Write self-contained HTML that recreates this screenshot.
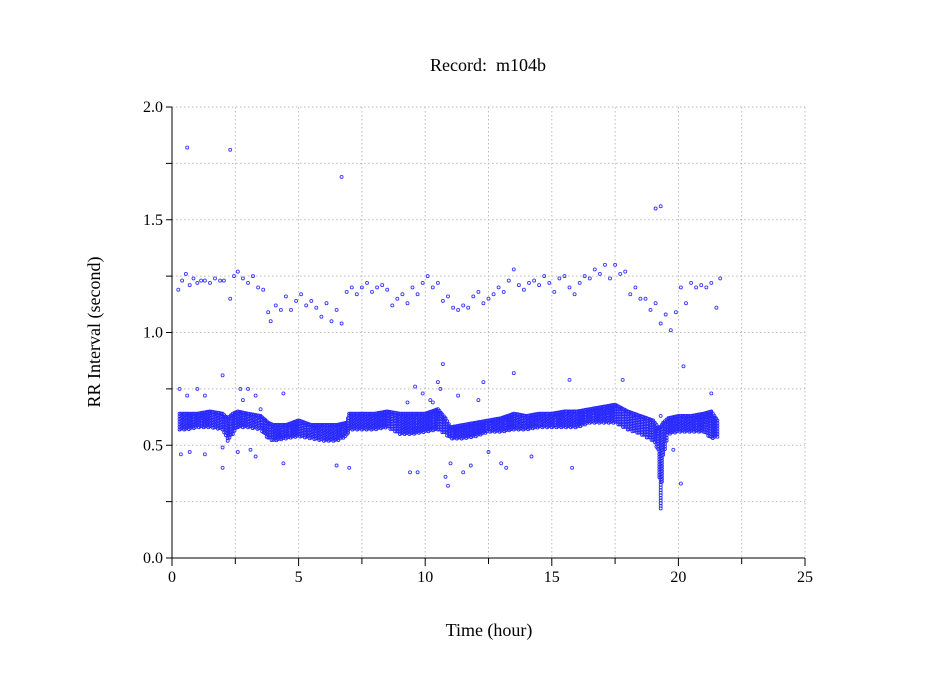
<!DOCTYPE html>
<html><head><meta charset="utf-8"><style>
html,body{margin:0;padding:0;background:#fff;}
svg{display:block;font-family:"Liberation Serif",serif;}
</style></head><body>
<svg id="chart" width="949" height="697" viewBox="0 0 949 697" xmlns="http://www.w3.org/2000/svg">
<text x="488" y="71" font-size="18" text-anchor="middle" xml:space="preserve">Record:  m104b</text>
<text x="489" y="636" font-size="18" text-anchor="middle">Time (hour)</text>
<text x="100" y="332" font-size="18" text-anchor="middle" transform="rotate(-90 100 332)">RR Interval (second)</text>
<g id="grid"></g>
<g id="axes"></g>
<g id="marks"></g>
</svg>
<script>
const xTicks=[0,5,10,15,20,25];
const xTickLabels=["0","5","10","15","20","25"];
const yTicks=[0,0.5,1.0,1.5,2.0];
const yTickLabels=["0.0","0.5","1.0","1.5","2.0"];
const bandTime=[0.3,0.6,1,1.5,2,2.2,2.4,2.6,3,3.5,3.8,4,4.5,5,5.5,6,6.5,6.9,7,7.5,8,8.5,9,9.5,10,10.5,10.8,11,11.5,12,12.5,13,13.5,14,14.5,15,15.5,16,16.5,17,17.5,18,18.5,19,19.2,19.3,19.4,19.6,20,20.5,21,21.3,21.6];
const bandLo=[.57,.57,.58,.58,.57,.52,.55,.58,.58,.57,.53,.52,.53,.54,.53,.52,.52,.54,.57,.57,.57,.58,.55,.55,.56,.57,.55,.53,.53,.54,.56,.56,.57,.57,.58,.58,.58,.58,.6,.6,.6,.57,.55,.52,.48,.22,.45,.55,.56,.56,.56,.53,.54];
const bandHi=[.64,.64,.64,.65,.64,.62,.64,.65,.64,.63,.6,.59,.59,.61,.59,.59,.59,.6,.64,.64,.64,.65,.64,.64,.64,.66,.62,.58,.59,.6,.61,.62,.64,.63,.64,.64,.65,.65,.66,.67,.68,.65,.63,.61,.58,.58,.6,.62,.63,.63,.64,.65,.6];
const upperTime=[0.25,0.4,0.55,0.7,0.85,1.0,1.15,1.3,1.5,1.7,1.9,2.05,2.3,2.45,2.6,2.8,3.0,3.2,3.4,3.6,3.8,3.9,4.1,4.3,4.5,4.7,4.9,5.1,5.3,5.5,5.7,5.9,6.1,6.3,6.5,6.7,6.9,7.1,7.3,7.5,7.7,7.9,8.1,8.3,8.5,8.7,8.9,9.1,9.3,9.5,9.7,9.9,10.1,10.3,10.5,10.7,10.9,11.1,11.3,11.5,11.7,11.9,12.1,12.3,12.5,12.7,12.9,13.1,13.3,13.5,13.7,13.9,14.1,14.3,14.5,14.7,14.9,15.1,15.3,15.5,15.7,15.9,16.1,16.3,16.5,16.7,16.9,17.1,17.3,17.5,17.7,17.9,18.1,18.3,18.5,18.7,18.9,19.1,19.3,19.5,19.7,19.9,20.1,20.3,20.5,20.7,20.9,21.1,21.3,21.5,21.65];
const upperVal=[1.19,1.23,1.26,1.21,1.24,1.22,1.23,1.23,1.22,1.24,1.23,1.23,1.15,1.25,1.27,1.24,1.22,1.25,1.2,1.19,1.09,1.05,1.12,1.1,1.16,1.1,1.14,1.17,1.12,1.14,1.11,1.07,1.13,1.05,1.1,1.04,1.18,1.2,1.17,1.2,1.22,1.18,1.2,1.21,1.19,1.12,1.15,1.17,1.13,1.2,1.17,1.22,1.25,1.2,1.22,1.14,1.16,1.11,1.1,1.12,1.11,1.16,1.18,1.13,1.15,1.17,1.2,1.18,1.23,1.28,1.21,1.19,1.22,1.23,1.21,1.25,1.22,1.18,1.24,1.25,1.2,1.17,1.22,1.25,1.24,1.28,1.26,1.3,1.24,1.3,1.26,1.27,1.17,1.2,1.15,1.15,1.1,1.13,1.04,1.08,1.01,1.09,1.2,1.13,1.22,1.2,1.21,1.2,1.22,1.11,1.24];
const outTime=[0.3,0.35,0.6,0.7,1.0,1.3,1.3,2.0,2.0,2.0,2.6,2.7,2.8,3.0,3.1,3.3,3.3,3.5,4.4,4.4,6.5,7.0,9.3,9.4,9.6,9.7,9.9,10.2,10.3,10.5,10.6,10.7,10.8,10.9,11.0,11.3,11.5,11.8,12.1,12.3,12.5,13.0,13.5,13.2,14.2,15.7,15.8,17.8,19.3,19.8,20.1,20.2,21.3,14.5];
const outVal=[0.75,0.46,0.72,0.47,0.75,0.46,0.72,0.81,0.49,0.4,0.47,0.75,0.7,0.75,0.48,0.72,0.45,0.66,0.73,0.42,0.41,0.4,0.69,0.38,0.76,0.38,0.73,0.7,0.69,0.78,0.75,0.86,0.36,0.32,0.42,0.72,0.38,0.41,0.7,0.78,0.47,0.42,0.82,0.4,0.45,0.79,0.4,0.79,0.63,0.48,0.33,0.85,0.73,0.6];
const outTopTime=[0.6,2.3,6.7,19.1,19.3];
const outTopVal=[1.82,1.81,1.69,1.55,1.56];

const X0=172,X1=805,Y0=558,Y1=107;
const xs=v=>X0+(v-0)/(25-0)*(X1-X0);
const ys=v=>Y0-(v-0)/(2-0)*(Y0-Y1);
const NS="http://www.w3.org/2000/svg";
function mk(tag,attrs,parent){const e=document.createElementNS(NS,tag);for(const k in attrs)e.setAttribute(k,attrs[k]);parent.appendChild(e);return e;}
const grid=document.getElementById('grid'),axes=document.getElementById('axes'),marks=document.getElementById('marks');
for(let t=2.5;t<=25;t+=2.5){const l=mk('line',{x1:xs(t),x2:xs(t),y1:Y1,y2:Y0,stroke:'#bbb','stroke-dasharray':'1.5,2.5','stroke-width':1},grid);

}
for(let v=0.25;v<=2.0;v+=0.25){const l=mk('line',{x1:X0,x2:X1,y1:ys(v),y2:ys(v),stroke:'#bbb','stroke-dasharray':'1.5,2.5','stroke-width':1},grid);

}
mk('line',{x1:X0,x2:X0,y1:Y1,y2:Y0,stroke:'#000'},axes);
mk('line',{x1:X0,x2:X1,y1:Y0,y2:Y0,stroke:'#000'},axes);
for(let t=0;t<=25;t+=2.5){const tk=mk('line',{x1:xs(t),x2:xs(t),y1:Y0,y2:Y0+(t%5===0?8:6),stroke:'#000'},axes);

}
for(let v=0;v<=2.0001;v+=0.25){const tk=mk('line',{x1:X0-6,x2:X0,y1:ys(v),y2:ys(v),stroke:'#000'},axes);

}
xTicks.forEach((t,i)=>{const tx=mk('text',{x:xs(t),y:Y0+24,'font-size':16,'text-anchor':'middle'},axes);tx.textContent=xTickLabels[i];

});
yTicks.forEach((v,i)=>{const tx=mk('text',{x:X0-9,y:ys(v)+5,'font-size':16,'text-anchor':'end'},axes);tx.textContent=yTickLabels[i];

});
function dot(t,v,name,col){const c=mk('circle',{cx:xs(t).toFixed(1),cy:ys(v).toFixed(1),r:1.5,fill:'none',stroke:col||'#3a3aff','stroke-width':0.9},marks);

}
// dense band: columns ~1.6px apart, rows ~2.6px apart, staggered
let col=0;
for(let i=0;i<bandTime.length-1;i++){
  const t0=bandTime[i],t1=bandTime[i+1];
  const steps=Math.max(1,Math.round((t1-t0)*16));
  for(let s=0;s<steps;s++){
    const f=s/steps,t=t0+(t1-t0)*f;
    const lo=bandLo[i]+(bandLo[i+1]-bandLo[i])*f,hi=bandHi[i]+(bandHi[i+1]-bandHi[i])*f;
    const pxH=(hi-lo)*225.5;
    const n=Math.max(1,Math.round(pxH/2.6));
    const off=(col%3)/3;
    for(let k=0;k<=n;k++){const ff=Math.min(1,(k+(k<n?off:0))/n);dot(t,lo+(hi-lo)*ff,'band-point','#2a2aff');}
    col++;
  }
}
upperTime.forEach((t,i)=>dot(t,upperVal[i],'upper-point'));
outTime.forEach((t,i)=>dot(t,outVal[i],'outlier-point'));
outTopTime.forEach((t,i)=>dot(t,outTopVal[i],'outlier-point'));
</script>
</body></html>
